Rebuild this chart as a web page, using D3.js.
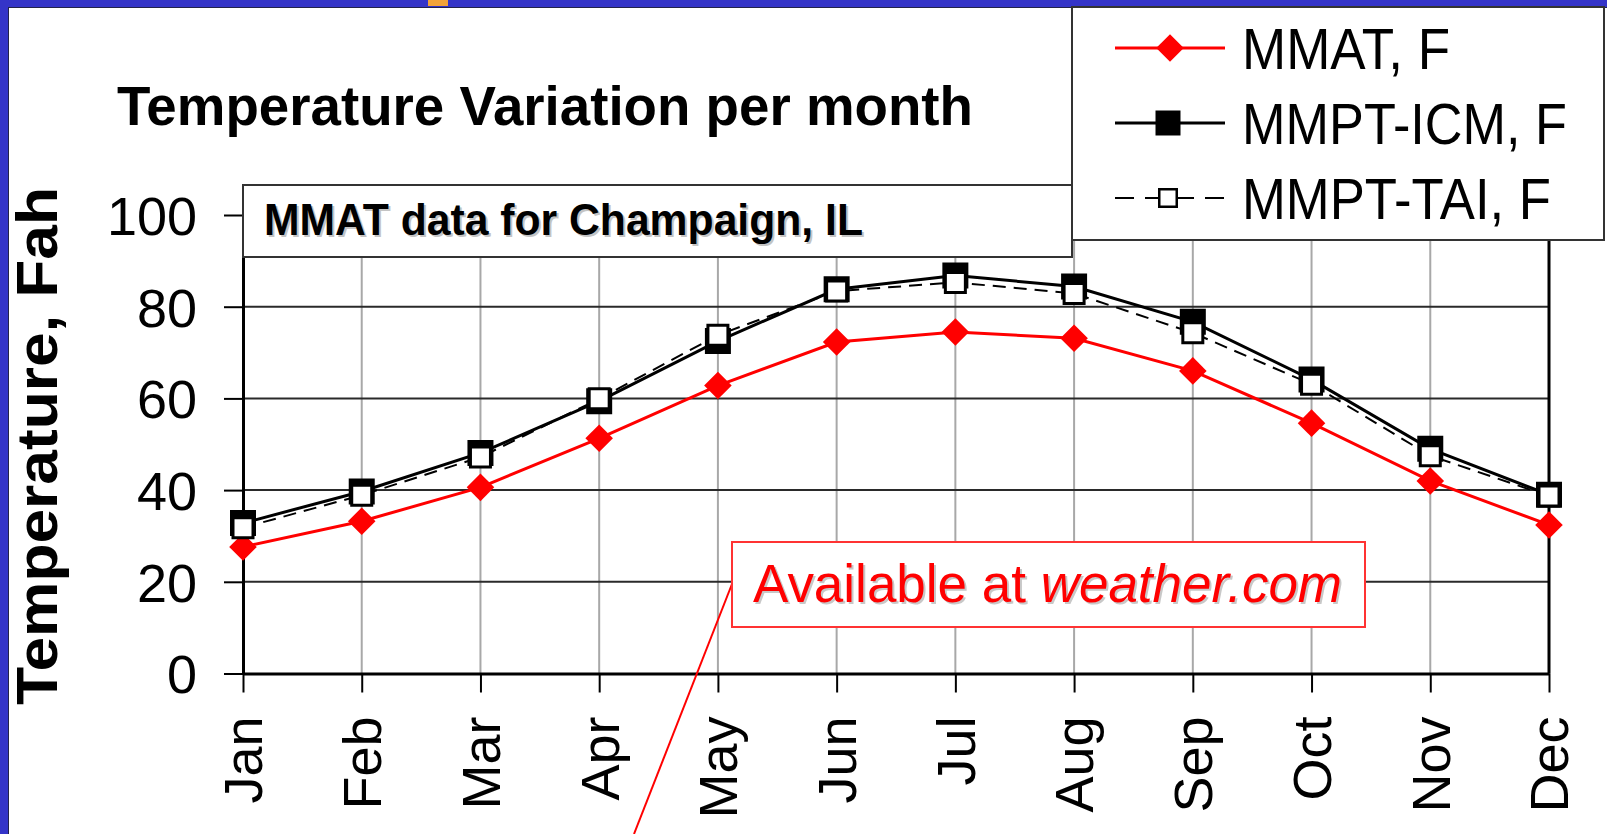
<!DOCTYPE html>
<html lang="en">
<head>
  <meta charset="UTF-8">
  <script src="https://d3js.org/d3.v7.min.js"></script>
  <style>
    body {
      margin: 0;
      padding: 0;
      background: #fff;
      overflow: hidden;
    }
    svg text {
      font-family: "Liberation Sans", Arial, sans-serif;
    }
  </style>
</head>
<body>
  <div id="chart"></div>

  <script>
    // monthly temperatures, deg F
    const months = ["Jan", "Feb", "Mar", "Apr", "May", "Jun", "Jul", "Aug", "Sep", "Oct", "Nov", "Dec"];
    const mmat   = [27.6, 33.2, 40.6, 51.3, 62.8, 72.3, 74.5, 73.1, 66.0, 54.6, 42.0, 32.4];
    const mmptIcm = [32.8, 39.7, 48.1, 59.4, 72.5, 83.8, 86.8, 84.4, 76.7, 64.1, 49.0, 39.0];
    const mmptTai = [31.8, 38.9, 47.2, 59.9, 73.8, 83.4, 85.3, 82.9, 74.3, 63.1, 47.5, 38.7];
    const yTicks = [0, 20, 40, 60, 80, 100];
    const seriesNames = ["MMAT, F", "MMPT-ICM, F", "MMPT-TAI, F"];

    const width = 1607, height = 834;
    const plot = { left: 243, right: 1549, top: 215, bottom: 673.5 };

    const svg = d3.select("#chart")
      .append("svg")
      .attr("width", width)
      .attr("height", height);

    // slide frame
    svg.append("rect").attr("width", width).attr("height", height).attr("fill", "#fff");
    svg.append("rect").attr("x", 0).attr("y", 0).attr("width", width).attr("height", 7).attr("fill", "#3434c8");
    svg.append("rect").attr("x", 0).attr("y", 0).attr("width", 8).attr("height", height).attr("fill", "#3434c8");
    svg.append("line").attr("x1", 8).attr("x2", width).attr("y1", 7.5).attr("y2", 7.5).attr("stroke", "#22224a").attr("stroke-width", 1);
    svg.append("line").attr("x1", 8.5).attr("x2", 8.5).attr("y1", 7).attr("y2", height).attr("stroke", "#22224a").attr("stroke-width", 1);
    svg.append("rect").attr("x", 428).attr("y", 0).attr("width", 20).attr("height", 6).attr("fill", "#f2a33a");

    const x = d3.scalePoint().domain(months).range([plot.left, plot.right]);
    const y = d3.scaleLinear().domain([0, 100]).range([plot.bottom, plot.top]);

    // gridlines
    svg.append("g")
      .selectAll("line")
      .data(months)
      .join("line")
      .attr("x1", d => x(d)).attr("x2", d => x(d))
      .attr("y1", y(100)).attr("y2", y(0))
      .attr("stroke", "#a8a8a8")
      .attr("stroke-width", 2);

    svg.append("g")
      .selectAll("line")
      .data(yTicks.filter(d => d > 0))
      .join("line")
      .attr("x1", plot.left).attr("x2", plot.right)
      .attr("y1", d => y(d)).attr("y2", d => y(d))
      .attr("stroke", "#2a2a2a")
      .attr("stroke-width", 2);

    // axes
    const yAxis = svg.append("g")
      .attr("transform", `translate(${plot.left},0)`)
      .call(d3.axisLeft(y).tickValues(yTicks).tickSize(19).tickSizeOuter(0).tickPadding(27));
    yAxis.select(".domain").attr("stroke", "#000").attr("stroke-width", 3);
    yAxis.selectAll(".tick line").attr("stroke", "#000").attr("stroke-width", 2);
    yAxis.selectAll(".tick text")
      .attr("font-size", 54)
      .attr("fill", "#000")
      .attr("dy", "0.36em");

    const xAxis = svg.append("g")
      .attr("transform", `translate(0,${plot.bottom})`)
      .call(d3.axisBottom(x).tickSize(19).tickSizeOuter(0));
    xAxis.select(".domain").attr("stroke", "#000").attr("stroke-width", 3);
    xAxis.selectAll(".tick line").attr("stroke", "#000").attr("stroke-width", 2);
    xAxis.selectAll(".tick text")
      .attr("font-size", 54)
      .attr("fill", "#000")
      .attr("transform", "rotate(-90)")
      .attr("text-anchor", "end")
      .attr("x", -43)
      .attr("y", 0)
      .attr("dy", "0.35em");

    // right border of the plot
    svg.append("line")
      .attr("x1", x("Dec")).attr("x2", x("Dec"))
      .attr("y1", y(100)).attr("y2", y(0))
      .attr("stroke", "#000").attr("stroke-width", 3);

    // series
    const line = d3.line().x((d, i) => x(months[i])).y(d => y(d));

    svg.append("path").datum(mmat)
      .attr("d", line).attr("fill", "none")
      .attr("stroke", "#ff0000").attr("stroke-width", 3);
    svg.append("g").selectAll("path").data(mmat).join("path")
      .attr("d", d3.symbol().type(d3.symbolSquare).size(380))
      .attr("transform", (d, i) => `translate(${x(months[i])},${y(d)}) rotate(45)`)
      .attr("fill", "#ff0000");

    svg.append("path").datum(mmptIcm)
      .attr("d", line).attr("fill", "none")
      .attr("stroke", "#000").attr("stroke-width", 3);
    svg.append("path").datum(mmptTai)
      .attr("d", line).attr("fill", "none")
      .attr("stroke", "#000").attr("stroke-width", 2)
      .attr("stroke-dasharray", "13,8");

    svg.append("g").selectAll("path").data(mmptIcm).join("path")
      .attr("d", d3.symbol().type(d3.symbolSquare).size(576))
      .attr("transform", (d, i) => `translate(${x(months[i])},${y(d)})`)
      .attr("fill", "#000").attr("stroke", "#000").attr("stroke-width", 2);
    svg.append("g").selectAll("path").data(mmptTai).join("path")
      .attr("d", d3.symbol().type(d3.symbolSquare).size(400))
      .attr("transform", (d, i) => `translate(${x(months[i])},${y(d)})`)
      .attr("fill", "#fff").attr("stroke", "#000").attr("stroke-width", 3);

    // title
    svg.append("text")
      .attr("x", 117).attr("y", 125)
      .attr("font-size", 56).attr("font-weight", "bold")
      .attr("textLength", 856).attr("lengthAdjust", "spacingAndGlyphs")
      .text("Temperature Variation per month");

    // y axis title
    svg.append("text")
      .attr("transform", "translate(57,446) rotate(-90)")
      .attr("text-anchor", "middle")
      .attr("font-size", 57).attr("font-weight", "bold")
      .attr("textLength", 518).attr("lengthAdjust", "spacingAndGlyphs")
      .text("Temperature, Fah");

    // subtitle box
    svg.append("rect")
      .attr("x", 243).attr("y", 185).attr("width", 829).attr("height", 72)
      .attr("fill", "#fff").attr("stroke", "#333").attr("stroke-width", 2);
    svg.append("text")
      .attr("x", 266).attr("y", 237)
      .attr("font-size", 44).attr("font-weight", "bold").attr("fill", "#c4c4c4")
      .attr("textLength", 599).attr("lengthAdjust", "spacingAndGlyphs")
      .text("MMAT data for Champaign, IL");
    svg.append("text")
      .attr("x", 264).attr("y", 235)
      .attr("font-size", 44).attr("font-weight", "bold").attr("fill", "#000")
      .attr("textLength", 599).attr("lengthAdjust", "spacingAndGlyphs")
      .text("MMAT data for Champaign, IL");

    // legend
    const legend = svg.append("g");
    legend.append("rect")
      .attr("x", 1072).attr("y", 7).attr("width", 532).attr("height", 233)
      .attr("fill", "#fff").attr("stroke", "#333").attr("stroke-width", 2);
    const legRows = [48, 123, 198];
    const legWidths = [208, 325, 309];
    legRows.forEach((ly, i) => {
      const ln = legend.append("line")
        .attr("x1", 1115).attr("x2", 1225).attr("y1", ly).attr("y2", ly)
        .attr("stroke", i === 0 ? "#ff0000" : "#000")
        .attr("stroke-width", i === 2 ? 2 : 3);
      if (i === 2) ln.attr("stroke-dasharray", "19,11");
      legend.append("text")
        .attr("x", 1242).attr("y", ly + 21)
        .attr("font-size", 57)
        .attr("textLength", legWidths[i]).attr("lengthAdjust", "spacingAndGlyphs")
        .text(seriesNames[i]);
    });
    legend.append("path")
      .attr("d", d3.symbol().type(d3.symbolSquare).size(380))
      .attr("transform", `translate(1170,${legRows[0]}) rotate(45)`)
      .attr("fill", "#ff0000");
    legend.append("path")
      .attr("d", d3.symbol().type(d3.symbolSquare).size(625))
      .attr("transform", `translate(1168,${legRows[1]})`)
      .attr("fill", "#000");
    legend.append("path")
      .attr("d", d3.symbol().type(d3.symbolSquare).size(306))
      .attr("transform", `translate(1168,${legRows[2]})`)
      .attr("fill", "#fff").attr("stroke", "#000").attr("stroke-width", 2.5);

    // annotation callout
    svg.append("line")
      .attr("x1", 732).attr("y1", 584).attr("x2", 634).attr("y2", 834)
      .attr("stroke", "#ff0000").attr("stroke-width", 2);
    svg.append("rect")
      .attr("x", 732).attr("y", 542).attr("width", 633).attr("height", 85)
      .attr("fill", "#fff").attr("stroke", "#ff3333").attr("stroke-width", 2);
    [["#c8c8c8", 2], ["#ff0000", 0]].forEach(([col, off]) => {
      const t = svg.append("text")
        .attr("x", 753 + off).attr("y", 602 + off)
        .attr("font-size", 54).attr("fill", col)
        .attr("textLength", 589).attr("lengthAdjust", "spacingAndGlyphs");
      t.append("tspan").text("Available at ");
      t.append("tspan").attr("font-style", "italic").text("weather.com");
    });
  </script>
</body>
</html>
